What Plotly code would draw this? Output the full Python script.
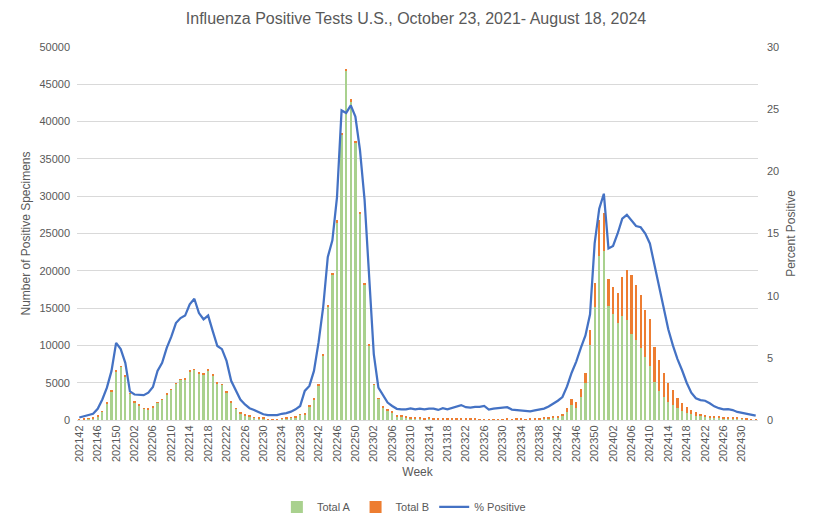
import plotly.graph_objects as go

# Week categories (MMWR weeks)
weeks = ([f"2021{w:02d}" for w in range(42, 53)] +
         [f"2022{w:02d}" for w in range(1, 53)] +
         [f"2023{w:02d}" for w in range(1, 53)] +
         [f"2024{w:02d}" for w in range(1, 34)])

tick_labels = ["202142", "202146", "202150", "202202", "202206", "202210", "202214",
               "202218", "202222", "202226", "202230", "202234", "202238", "202242",
               "202246", "202250", "202302", "202306", "202310", "202314", "201318",
               "202322", "202326", "202330", "202334", "202338", "202342", "202346",
               "202350", "202402", "202406", "202410", "202414", "202418", "202422",
               "202426", "202430"]

total_a = [
    # 2021-22 season (202142 - 202230)
    80, 120, 160, 230, 530, 1160, 2250, 3800, 6450, 7140, 5890, 3500, 2380, 1980,
    1560, 1460, 1730, 2300, 2700, 3440, 4030, 4840, 5390, 5450, 6500, 6720, 6250,
    6140, 6650, 5950, 4940, 4700, 3740, 2330, 1500, 910, 640, 460, 320, 210, 170,
    # 202231 - 202246
    40, 40, 50, 140, 240, 300, 390, 690, 750, 1820, 2800, 4630, 8620, 15100, 19500, 26510,
    # 202247 - 202311
    38220, 46900, 42570, 37240, 27700, 18210, 9990, 4740, 2850, 1690, 1310, 1030, 530,
    420, 320, 220, 200,
    # 202312 - 202341
    150, 100, 150, 70, 50, 100, 100, 50, 100, 100, 80, 30, 30, 20, 20, 20, 20, 20, 20,
    30, 30, 30, 30, 30, 40, 60, 120, 150, 220, 340,
    # 202342 - 202433
    400, 540, 1080, 2030, 1580, 3110, 5000, 10000, 15130, 22000, 22720, 15300, 14200,
    13010, 13930, 13400, 11500, 10680, 9600, 8420, 7300, 5050, 3950, 3050, 2350, 2000,
    1600, 1250, 1000, 800, 600, 480, 420, 350, 300, 280, 260, 250, 220, 180, 140, 110,
    80, 60,
]

total_b = [
    20, 30, 40, 80, 100, 40, 50, 100, 150, 60, 60, 50, 120, 120, 40, 40, 120, 100, 100,
    60, 120, 60, 60, 150, 150, 80, 150, 60, 150, 150, 60, 50, 60, 120, 50, 40, 40, 80,
    80, 60, 100,
    60, 60, 60, 80, 60, 100, 60, 80, 150, 80, 80, 100, 250, 300, 200, 250,
    250, 200, 400, 150, 100, 120, 150, 80, 80, 200, 220, 100, 150, 120, 130, 200, 200,
    250, 200, 300, 200, 130, 200, 200, 130, 200, 200, 190, 110, 110, 40, 30, 30, 30, 30,
    40, 110, 50, 110, 110, 60, 100, 100, 150, 150, 180, 200,
    140, 270, 500, 760, 900, 1080, 1350, 2120, 3220, 4750, 4980, 3650, 3650, 3960, 5260,
    6710, 7940, 7430, 7150, 6380, 6200, 4730, 4050, 3250, 2650, 2000, 1400, 1050, 800,
    550, 450, 340, 280, 210, 160, 150, 140, 130, 120, 100, 80, 60, 50, 40,
]

pct_positive = [
    0.2, 0.3, 0.35, 0.5, 0.9, 1.65, 2.6, 3.95, 6.2, 5.7, 4.6, 2.3, 2.05, 2.0, 2.0, 2.2,
    2.65, 3.95, 4.6, 5.8, 6.7, 7.8, 8.2, 8.4, 9.3, 9.75, 8.6, 8.1, 8.4, 7.15, 5.95, 5.7,
    4.75, 3.15, 2.35, 1.65, 1.25, 0.95, 0.8, 0.6, 0.46,
    0.4, 0.4, 0.4, 0.5, 0.55, 0.67, 0.86, 1.13, 2.34, 2.74, 3.95, 6.24, 9.07, 13.1,
    14.45, 17.9,
    24.9, 24.7, 25.3, 24.4, 21.7, 17.7, 11.75, 5.3, 2.6, 1.94, 1.4, 1.13, 0.9, 0.86,
    0.86, 0.94, 0.85,
    0.92, 0.86, 0.92, 0.92, 0.81, 0.95, 0.86, 0.97, 1.1, 1.2, 1.03, 1.0, 1.05, 1.05,
    1.13, 0.84, 0.92, 0.95, 1.03, 1.03, 0.84, 0.81, 0.78, 0.73, 0.7, 0.78, 0.84, 0.92,
    1.08, 1.3,
    1.55, 1.85, 2.7, 3.8, 4.7, 5.8, 6.8, 8.5, 14.2, 17.0, 18.2, 13.8, 14.0, 15.0, 16.2,
    16.5, 16.0, 15.6, 15.5, 15.0, 14.2, 12.5, 10.8, 9.0, 7.3, 6.0, 4.9, 4.0, 3.0, 2.2,
    1.75, 1.6, 1.55, 1.35, 1.1, 0.95, 0.86, 0.88, 0.8, 0.65, 0.58, 0.5, 0.45, 0.35,
]

FONT = "Liberation Sans"
GREY = "#595959"
GRID = "#d9d9d9"

fig = go.Figure()
fig.add_trace(go.Bar(x=weeks, y=total_a, name="Total A", marker_color="#A9D18E",
                     marker_line_width=0))
fig.add_trace(go.Bar(x=weeks, y=total_b, name="Total B", marker_color="#ED7D31",
                     marker_line_width=0))
fig.add_trace(go.Scatter(x=weeks, y=pct_positive, name="% Positive", mode="lines",
                         line=dict(color="#4472C4", width=2.25), yaxis="y2"))

fig.update_layout(
    width=816, height=527,
    margin=dict(l=69, r=66, t=39, b=115, autoexpand=False),
    paper_bgcolor="white", plot_bgcolor="white",
    barmode="stack", bargap=0.5,
    font=dict(family=FONT, size=11, color=GREY),
    title=dict(text="Influenza Positive Tests U.S., October 23, 2021- August 18, 2024",
               x=0.5, xanchor="center", y=0.981, yanchor="middle",
               font=dict(family=FONT, size=16, color=GREY)),
    xaxis=dict(type="category", tickmode="array", tickvals=weeks[::4],
               ticktext=tick_labels, tickangle=-90, showgrid=False, automargin=False,
               showline=True, linecolor=GRID, linewidth=1, ticks="",
               tickfont=dict(size=11, color=GREY),
               title=dict(text="Week", font=dict(size=12, color=GREY), standoff=6)),
    yaxis=dict(range=[0, 50000], dtick=5000, tickformat="d", showgrid=True,
               gridcolor=GRID, gridwidth=1, zeroline=False, ticks="", automargin=False,
               ticklabelstandoff=6,
               tickfont=dict(size=11, color=GREY),
               title=dict(text="Number of Positive Specimens",
                          font=dict(size=12, color=GREY), standoff=6)),
    yaxis2=dict(range=[0, 30], dtick=5, overlaying="y", side="right", automargin=False,
                showgrid=False, zeroline=False, ticks="", ticklabelstandoff=8,
                tickfont=dict(size=11, color=GREY),
                title=dict(text="Percent Positive", font=dict(size=12, color=GREY),
                           standoff=8)),
    legend=dict(orientation="h", x=0.48, xanchor="center", y=-0.233, yanchor="middle",
                font=dict(size=11, color=GREY), traceorder="normal"),
)

fig.write_html("out.html")
